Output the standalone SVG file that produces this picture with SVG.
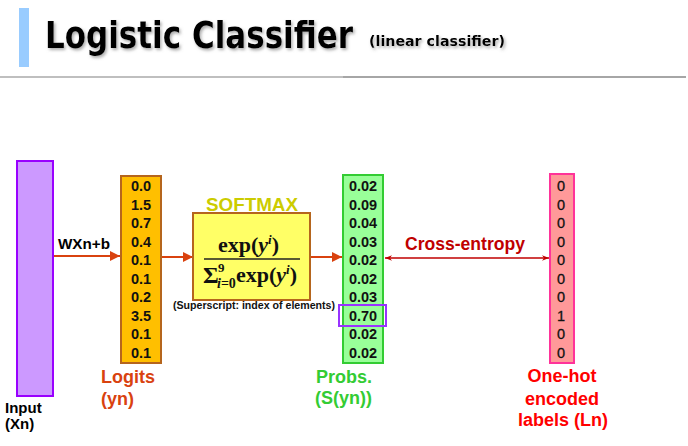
<svg xmlns="http://www.w3.org/2000/svg" width="688" height="446" viewBox="0 0 688 446">
<defs>
  <filter id="sh" x="-10%" y="-30%" width="120%" height="160%">
    <feDropShadow dx="1.5" dy="2" stdDeviation="1.6" flood-color="#777" flood-opacity="0.6"/>
  </filter>
  <marker id="ah" viewBox="0 0 10 10" refX="10" refY="5" markerWidth="10" markerHeight="10" markerUnits="userSpaceOnUse" orient="auto">
    <path d="M0,0 L10,5 L0,10 Z" fill="#d9420f"/>
  </marker>
  <marker id="ahs" viewBox="0 0 10 10" refX="10" refY="5" markerWidth="7" markerHeight="7" markerUnits="userSpaceOnUse" orient="auto-start-reverse">
    <path d="M0,1 L10,5 L0,9 L3,5 Z" fill="#c00000"/>
  </marker>
</defs>
<style>
  .v { font-family: "Liberation Sans", Arial, sans-serif; font-weight: bold; font-size: 14.5px; fill: #111; text-anchor: middle; }
  .vr { font-family: "Liberation Sans", Arial, sans-serif; font-size: 14.5px; fill: #111; text-anchor: middle; stroke: #111; stroke-width: 0.3px; }
  .lbl { font-family: "Liberation Sans", Arial, sans-serif; font-weight: bold; font-size: 18px; }
  .math { font-family: "Liberation Serif", "Times New Roman", serif; font-weight: bold; font-size: 22px; fill: #111; }
  .conn { stroke: #d9420f; stroke-width: 2; fill: none; }
</style>

<rect x="19" y="8" width="10" height="59" fill="#99ccff"/>
<g filter="url(#sh)">
  <text x="45" y="48" font-family="'DejaVu Sans', sans-serif" font-weight="bold" font-size="38" textLength="308" lengthAdjust="spacingAndGlyphs" fill="#000">Logistic Classifier</text>
  <text x="369" y="46" font-family="'DejaVu Sans', sans-serif" font-weight="bold" font-size="14" textLength="136" lengthAdjust="spacingAndGlyphs" fill="#000">(linear classifier)</text>
</g>
<line x1="0" y1="77" x2="343" y2="77" stroke="#aaa" stroke-width="1.5"/>
<line x1="343" y1="77" x2="686" y2="77" stroke="#888" stroke-width="1.5"/>

<g id="connectors">
  <line class="conn" x1="53" y1="256" x2="120" y2="256" marker-end="url(#ah)"/>
  <line class="conn" x1="161" y1="257" x2="193" y2="257" marker-end="url(#ah)"/>
  <line class="conn" x1="310" y1="257" x2="342" y2="257" marker-end="url(#ah)"/>
  <line x1="385" y1="258" x2="549" y2="258" stroke="#c00000" stroke-width="1.6" marker-start="url(#ahs)" marker-end="url(#ahs)"/>
  <text x="58" y="249" font-family="'Liberation Sans', Arial, sans-serif" font-weight="bold" font-size="14.5" textLength="52" lengthAdjust="spacingAndGlyphs" fill="#000">WXn+b</text>
  <text x="405" y="250" class="lbl" fill="#c00000" textLength="120" lengthAdjust="spacingAndGlyphs">Cross-entropy</text>
</g>

<g id="input">
  <rect x="17" y="161" width="36" height="235" fill="#cc99ff" stroke="#9900ff" stroke-width="2"/>
  <text x="5" y="413" font-family="'Liberation Sans', Arial, sans-serif" font-weight="bold" font-size="15" fill="#000">Input</text>
  <text x="5" y="429" font-family="'Liberation Sans', Arial, sans-serif" font-weight="bold" font-size="15" fill="#000">(Xn)</text>
</g>

<g id="logits">
  <rect x="121" y="176" width="40" height="187" fill="#ffbf00" stroke="#b5651d" stroke-width="2"/>
  <text class="v" x="141" y="191">0.0</text>
  <text class="v" x="141" y="209.5">1.5</text>
  <text class="v" x="141" y="228">0.7</text>
  <text class="v" x="141" y="246.5">0.4</text>
  <text class="v" x="141" y="265">0.1</text>
  <text class="v" x="141" y="283.5">0.1</text>
  <text class="v" x="141" y="302">0.2</text>
  <text class="v" x="141" y="320.5">3.5</text>
  <text class="v" x="141" y="339">0.1</text>
  <text class="v" x="141" y="357.5">0.1</text>
  <text x="101" y="383" class="lbl" fill="#d9420f">Logits</text>
  <text x="101" y="405" class="lbl" fill="#d9420f">(yn)</text>
</g>

<g id="softmax">
  <text x="252" y="211" text-anchor="middle" font-family="'Liberation Sans', Arial, sans-serif" font-weight="bold" font-size="18" textLength="92" lengthAdjust="spacingAndGlyphs" fill="#cccc00">SOFTMAX</text>
  <rect x="193" y="213" width="117" height="87" fill="#ffff66" stroke="#b5651d" stroke-width="2"/>
  <text class="math" x="218" y="252">exp(<tspan font-style="italic">y</tspan><tspan font-style="italic" font-size="13" dy="-8">i</tspan><tspan dy="8">)</tspan></text>
  <line x1="204" y1="259" x2="300" y2="259" stroke="#222" stroke-width="1.3"/>
  <text class="math" x="203" y="283" style="font-size:24px">Σ</text>
  <text class="math" x="218" y="272" style="font-size:13px">9</text>
  <text class="math" x="217" y="288" style="font-size:14px"><tspan font-style="italic">i</tspan>=0</text>
  <text class="math" x="236" y="282">exp(<tspan font-style="italic">y</tspan><tspan font-style="italic" font-size="13" dy="-8">i</tspan><tspan dy="8">)</tspan></text>
  <text x="173" y="309" font-family="'Liberation Sans', Arial, sans-serif" font-weight="bold" font-size="10.5" textLength="162" lengthAdjust="spacingAndGlyphs" fill="#111">(Superscript: index of elements)</text>
</g>

<g id="probs">
  <rect x="343" y="175" width="40" height="188" fill="#99ff99" stroke="#33cc33" stroke-width="2"/>
  <text class="v" x="363" y="191">0.02</text>
  <text class="v" x="363" y="209.5">0.09</text>
  <text class="v" x="363" y="228">0.04</text>
  <text class="v" x="363" y="246.5">0.03</text>
  <text class="v" x="363" y="265">0.02</text>
  <text class="v" x="363" y="283.5">0.02</text>
  <text class="v" x="363" y="302">0.03</text>
  <text class="v" x="363" y="320.5">0.70</text>
  <text class="v" x="363" y="339">0.02</text>
  <text class="v" x="363" y="357.5">0.02</text>
  <rect x="339" y="305" width="47" height="21" fill="none" stroke="#9933ff" stroke-width="2"/>
  <text x="316" y="383" class="lbl" fill="#33cc33">Probs.</text>
  <text x="315" y="404" class="lbl" fill="#33cc33">(S(yn))</text>
</g>

<g id="labels">
  <rect x="550" y="174" width="24" height="189" fill="#ff9999" stroke="#ff3399" stroke-width="2"/>
  <text class="vr" x="561" y="191">0</text>
  <text class="vr" x="561" y="209.5">0</text>
  <text class="vr" x="561" y="228">0</text>
  <text class="vr" x="561" y="246.5">0</text>
  <text class="vr" x="561" y="265">0</text>
  <text class="vr" x="561" y="283.5">0</text>
  <text class="vr" x="561" y="302">0</text>
  <text class="vr" x="561" y="320.5">1</text>
  <text class="vr" x="561" y="339">0</text>
  <text class="vr" x="561" y="357.5">0</text>
  <text x="562" y="382" class="lbl" fill="#ff0000" text-anchor="middle">One-hot</text>
  <text x="562" y="405" class="lbl" fill="#ff0000" text-anchor="middle">encoded</text>
  <text x="563" y="426" class="lbl" fill="#ff0000" text-anchor="middle">labels (Ln)</text>
</g>
</svg>
